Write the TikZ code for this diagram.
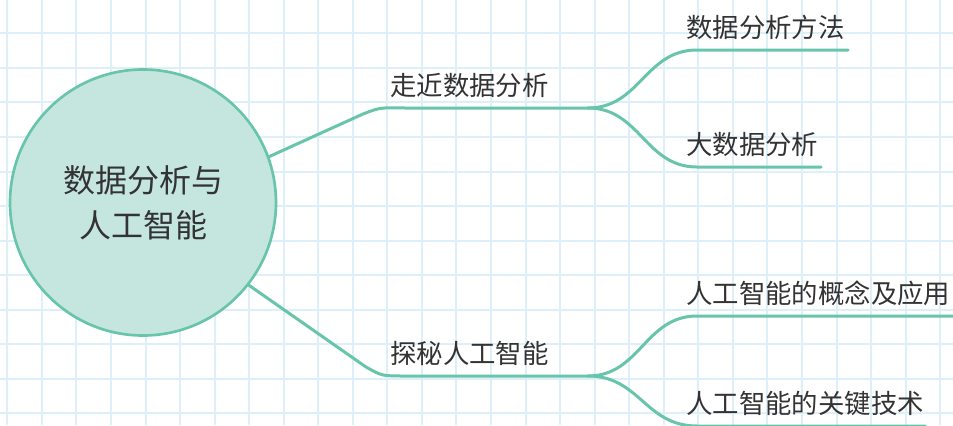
\documentclass[tikz,border=0pt]{standalone}
\usepackage{fontspec}
\setmainfont{Noto Sans CJK SC}

\definecolor{mint}{HTML}{68C5AB}
\definecolor{mintfill}{HTML}{C5E6DF}
\definecolor{gridblue}{HTML}{DDF0FA}
\definecolor{ink}{HTML}{333333}

\newcommand*{\picw}{953}
\newcommand*{\pich}{425}
\newcommand*{\gridstep}{34.55}
\newcommand*{\gridx}{7.3}
\newcommand*{\gridy}{-1.2}

\begin{document}
\begin{tikzpicture}
[
	x=0.75pt,
	y=-0.75pt,
	gridline/.style={draw=gridblue, line width=1.5pt},
	rootnode/.style={circle, draw=mint, fill=mintfill, line width=2pt, minimum size=199.5pt, inner sep=0pt, align=center, text=ink, font=\fontsize{24}{33.75}\selectfont},
	topictext/.style={inner sep=0pt, anchor=base west, text=ink, font=\fontsize{19.8}{23}\selectfont},
	branch/.style={draw=mint, line width=2.25pt, line cap=round}
]

	\fill[white] (0,0) rectangle (\picw,\pich);
	\useasboundingbox (0,0) rectangle (\picw,\pich);

	% squared paper
	\foreach \i in {0,...,27}
		\draw[gridline] ({\gridx+\i*\gridstep},0) -- ({\gridx+\i*\gridstep},\pich);
	\foreach \j in {1,...,12}
		\draw[gridline] (0,{\gridy+\j*\gridstep}) -- (\picw,{\gridy+\j*\gridstep});

	\node[rootnode] (root) at (143,202.5) {数据分析与\\人工智能};

	% first branch
	\coordinate (nearbend) at (363,114);
	\coordinate (nearL) at (405,108);
	\coordinate (nearR) at (588,108);
	\node[topictext] (near) at (390,95) {走近数据分析};

	\coordinate (methodL) at (697,50);
	\coordinate (methodR) at (848,50);
	\node[topictext] (method) at (686,37) {数据分析方法};

	\coordinate (bigdataL) at (697,167);
	\coordinate (bigdataR) at (821,167);
	\node[topictext] (bigdata) at (686,154) {大数据分析};

	\draw[branch] (root.20) -- (nearbend) .. controls (380,107.5) .. (nearL) -- (nearR);
	\draw[branch] (nearR) .. controls (640,108) and (645,50) .. (methodL) -- (methodR);
	\draw[branch] (nearR) .. controls (640,108) and (645,167) .. (bigdataL) -- (bigdataR);

	% second branch
	\coordinate (explorebend) at (366,367);
	\coordinate (exploreL) at (405,376);
	\coordinate (exploreR) at (588,376);
	\node[topictext] (explore) at (390,363) {探秘人工智能};

	\coordinate (conceptL) at (697,316);
	\coordinate (conceptR) at (960,316);
	\node[topictext] (concept) at (686,303) {人工智能的概念及应用};

	\coordinate (techL) at (697,426);
	\coordinate (techR) at (925,426);
	\node[topictext] (tech) at (686,413) {人工智能的关键技术};

	\draw[branch] (root.-38) -- (explorebend) .. controls (382,376) .. (exploreL) -- (exploreR);
	\draw[branch] (exploreR) .. controls (640,376) and (645,316) .. (conceptL) -- (conceptR);
	\draw[branch] (exploreR) .. controls (640,376) and (645,426) .. (techL) -- (techR);

\end{tikzpicture}
\end{document}
